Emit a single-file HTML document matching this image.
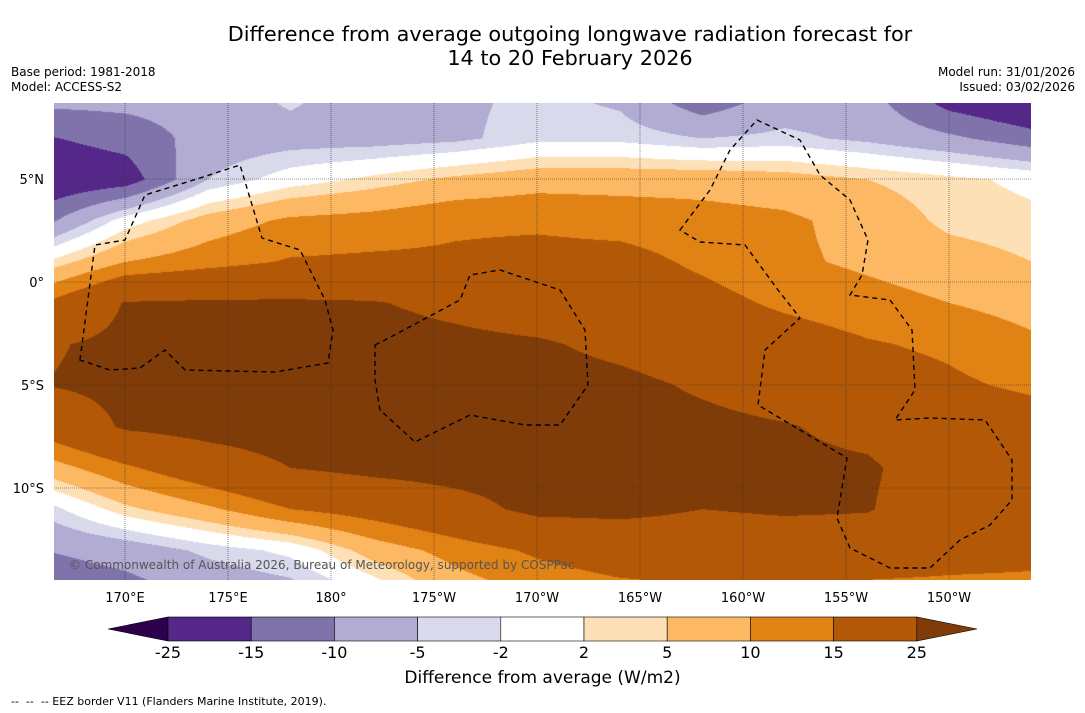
<!DOCTYPE html>
<html><head><meta charset="utf-8"><style>
body{margin:0;width:1085px;height:713px;background:#fff;font-family:"DejaVu Sans","Liberation Sans",sans-serif;position:relative;overflow:hidden}
.t{position:absolute;white-space:nowrap;color:#000}
</style></head><body>
<div class="t" style="left:0;width:1140px;text-align:center;top:22px;font-size:20.8px;line-height:24px">Difference from average outgoing longwave radiation forecast for<br>14 to 20 February 2026</div>
<div class="t" style="left:11px;top:65px;font-size:12px;line-height:15px">Base period: 1981-2018<br>Model: ACCESS-S2</div>
<div class="t" style="right:10px;top:65px;font-size:12px;line-height:15px;text-align:right">Model run: 31/01/2026<br>Issued: 03/02/2026</div>
<canvas id="map" width="977" height="477" style="position:absolute;left:54px;top:103px"></canvas>
<svg id="ov" width="1085" height="713" style="position:absolute;left:0;top:0"></svg>
<div class="t" style="left:69px;top:558px;font-size:12px;color:#555">© Commonwealth of Australia 2026, Bureau of Meteorology, supported by COSPPac</div>
<div class="t" style="left:0;width:1085px;text-align:center;top:668px;font-size:17px">Difference from average (W/m2)</div>
<div class="t" style="left:11px;top:695px;font-size:11px">-- &nbsp;-- &nbsp;-- EEZ border V11 (Flanders Marine Institute, 2019).</div>
<script>
const lons=[166,170,174,178,182,186,190,194,198,202,206,210,214];
const lats=[9,7,5,3,1,-1,-3,-5,-7,-9,-11,-13,-15];
const row0=[-8,-8,-8,-4,-8,-6,-4,-6,-14,-8,-8,-18,-22];
const row1=[-15.5,-13,-8,-7,-7,-6,-3,-3,-5,-4,-6,-9,-13];
const row2=[-20,-18,-5,0,3,6,8,8,8,7,5,3,1];
const row3=[-12,0,7,11,12,14,14,13,12,11,8,4,3];
const row4=[2,10,13,15.5,16,16,17,17,14,11,9,7,5];
const row5=[15,25.5,26,26,25.5,23,20,19,17,14,12,10,8];
const row6=[24,27,28,28,28,27,26,23,20,18,15.5,14,11];
const row7=[25,27,28,29,29,28,28,27,24,21,18,16,14];
const row8=[18,26,28,29,29,29,28,28,27,25.5,23,20,18];
const row9=[7,14,20,25,27,28,28,28,27,26.5,26,21,19];
const row10=[-4,4,9,15,18,22,27,27,25,26,25.5,20,18];
const row11=[-10,-8,-4,-1,7,12,16,19,20,20,20,18,17];
const row12=[-14,-12,-9,-7,-1,7,11,13,14,14,13,13,13];
const grid=[row0,row1,row2,row3,row4,row5,row6,row7,row8,row9,row10,row11,row12];
const levels=[-25,-15,-10,-5,-2,2,5,10,15,25];
const colors=["#2d004b","#542788","#8073ac","#b2abd2","#d8daeb","#ffffff","#fee0b6","#fdb863","#e08214","#b35806","#7f3b08"];
const xTicks=[170,175,180,185,190,195,200,205,210];
const xLabels=["170°E","175°E","180°","175°W","170°W","165°W","160°W","155°W","150°W"];
const yTicks=[5,0,-5,-10];
const yLabels=["5N","0°","5S","10S"];
const X=lon=>125+(lon-170)*20.6;
const Y=lat=>282-lat*20.6;
const Lon=x=>170+(x-125)/20.6;
const Lat=y=>(282-y)/20.6;
function val(lon,lat){
  let fi=(lon-lons[0])/(lons[1]-lons[0]), fj=(lats[0]-lat)/(lats[0]-lats[1]);
  fi=Math.max(0,Math.min(lons.length-1.0001,fi)); fj=Math.max(0,Math.min(lats.length-1.0001,fj));
  const i=Math.floor(fi),j=Math.floor(fj),a=fi-i,b=fj-j;
  return grid[j][i]*(1-a)*(1-b)+grid[j][i+1]*a*(1-b)+grid[j+1][i]*(1-a)*b+grid[j+1][i+1]*a*b;
}
function hex(c){return [parseInt(c.slice(1,3),16),parseInt(c.slice(3,5),16),parseInt(c.slice(5,7),16)];}
const rgb=colors.map(hex);
const cv=document.getElementById('map'),ctx=cv.getContext('2d');
const img=ctx.createImageData(977,477);
for(let py=0;py<477;py++)for(let px=0;px<977;px++){
  const v=val(Lon(px+54),Lat(py+103));
  let k=0;while(k<levels.length&&v>=levels[k])k++;
  const c=rgb[k],o=(py*977+px)*4;
  img.data[o]=c[0];img.data[o+1]=c[1];img.data[o+2]=c[2];img.data[o+3]=255;
}
ctx.putImageData(img,0,0);
const ov=document.getElementById('ov'),NS='http://www.w3.org/2000/svg';
function mk(t,a,p){const e=document.createElementNS(NS,t);for(const k in a)e.setAttribute(k,a[k]);(p||ov).appendChild(e);return e;}
xTicks.forEach((lon,i)=>{
  const l=mk('line',{x1:X(lon),x2:X(lon),y1:103,y2:580,stroke:'#333','stroke-width':0.6,'stroke-dasharray':'1,1'});
  
  
  const t=mk('text',{x:X(lon),y:602,'font-size':13,'text-anchor':'middle','font-family':'DejaVu Sans, sans-serif'});
  t.textContent=xLabels[i];
  
  
});
yTicks.forEach((lat,i)=>{
  const l=mk('line',{x1:54,x2:1031,y1:Y(lat),y2:Y(lat),stroke:'#333','stroke-width':0.6,'stroke-dasharray':'1,1'});
  
  
  const t=mk('text',{x:44,y:Y(lat)+5,'font-size':13,'text-anchor':'end','font-family':'DejaVu Sans, sans-serif'});
  t.textContent=yLabels[i].replace('N','°N').replace('S','°S');
  
  
});
const eez=["M80,360 L95,245 L125,240 L145,195 L200,178 L240,165 L262,238 L300,250 L325,300 L333,330 L328,363 L275,372 L185,370 L165,350 L140,368 L110,370 Z",
"M375,345 L385,340 L460,300 L470,275 L500,270 L560,290 L585,330 L588,385 L560,425 L525,425 L470,415 L415,442 L380,410 L375,380 Z",
"M680,230 L710,190 L730,150 L757,120 L800,140 L820,175 L850,200 L868,240 L862,275 L850,295 L890,300 L912,330 L915,390 L895,420 L930,418 L985,420 L1012,460 L1012,500 L990,525 L960,540 L930,568 L890,568 L850,548 L837,518 L847,458 L800,430 L758,405 L765,350 L800,318 L778,290 L745,245 L700,242 Z"];
eez.forEach(d=>{const p=mk('path',{d:d,fill:'none',stroke:'#000','stroke-width':1.4,'stroke-dasharray':'5,4'});
  
  });
const cb0=168,cbw=83.2,cy=617,ch=24;
const lt=mk('polygon',{points:`${cb0},${cy} ${cb0},${cy+ch} 108,${cy+ch/2}`,fill:colors[0],stroke:'#000','stroke-width':0.6});


for(let i=0;i<9;i++){
  const r=mk('rect',{x:cb0+i*cbw,y:cy,width:cbw,height:ch,fill:colors[i+1],stroke:'#000','stroke-width':0.6});
  
  
}
const rt=mk('polygon',{points:`${cb0+9*cbw},${cy} ${cb0+9*cbw},${cy+ch} 977,${cy+ch/2}`,fill:colors[10],stroke:'#000','stroke-width':0.6});


levels.forEach((lv,i)=>{
  const t=mk('text',{x:cb0+i*cbw,y:658,'font-size':16,'text-anchor':'middle','font-family':'DejaVu Sans, sans-serif'});
  t.textContent=lv;
  
  
});
</script>
</body></html>
